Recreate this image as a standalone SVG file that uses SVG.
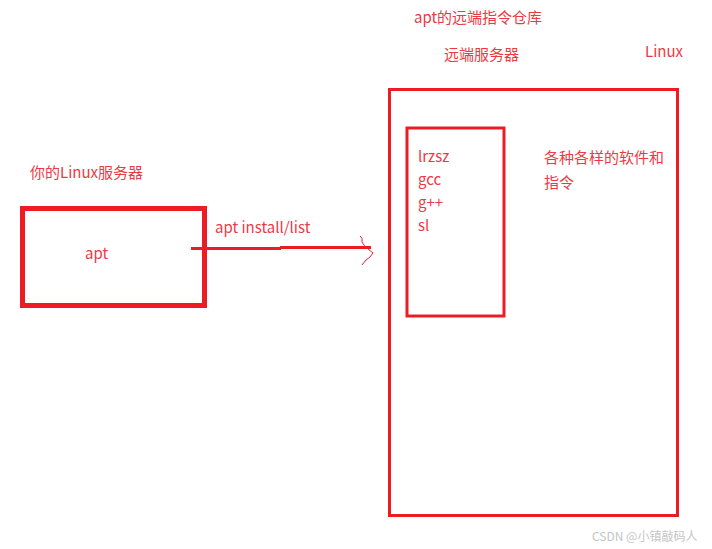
<svg xmlns="http://www.w3.org/2000/svg" width="712" height="549" viewBox="0 0 712 549">
<style>
.t{font-family:"Microsoft YaHei","Noto Sans CJK SC","Noto Sans",sans-serif;font-size:15px;fill:#ec3a44}
.box{fill:none;stroke:#ed1c24}
.wm{font-family:"Microsoft YaHei","Noto Sans CJK SC",sans-serif;font-size:12px;fill:#c4c4c4}
</style>
<rect width="712" height="549" fill="#ffffff"/>
<g id="local-server">
<text class="t" x="30" y="178">你的Linux服务器</text>
<rect class="box" x="22.5" y="208.5" width="182" height="97" stroke-width="5"/>
<text class="t" x="85" y="259">apt</text>
</g>
<g id="remote-repo">
<text class="t" x="414" y="23">apt的远端指令仓库</text>
<text class="t" x="444" y="60">远端服务器</text>
<text class="t" x="645" y="57">Linux</text>
<rect class="box" x="389.5" y="89.5" width="288" height="426" stroke-width="3"/>
<text class="t" x="544" y="163">各种各样的软件和</text>
<text class="t" x="544" y="188">指令</text>
</g>
<g id="package-list">
<rect class="box" x="407" y="128" width="97" height="188" stroke-width="3"/>
<text class="t" x="418" y="162">lrzsz</text>
<text class="t" x="418" y="185">gcc</text>
<text class="t" x="418" y="208">g++</text>
<text class="t" x="418" y="231">sl</text>
</g>
<g id="connectors">
<text class="t" x="215" y="233">apt install/list</text>
<line x1="191" y1="248.5" x2="281" y2="248.5" stroke="#ed1c24" stroke-width="3"/>
<line x1="280" y1="247.5" x2="371" y2="247.5" stroke="#ed1c24" stroke-width="3"/>
<path d="M360,236 Q363,238 362,242 Q364,246 368,249 L373,253 Q370,258 366,260 L362,265" fill="none" stroke="#ed1c24" stroke-width="1"/>
</g>
<text class="wm" x="592" y="541">CSDN @小镇敲码人</text>
</svg>
